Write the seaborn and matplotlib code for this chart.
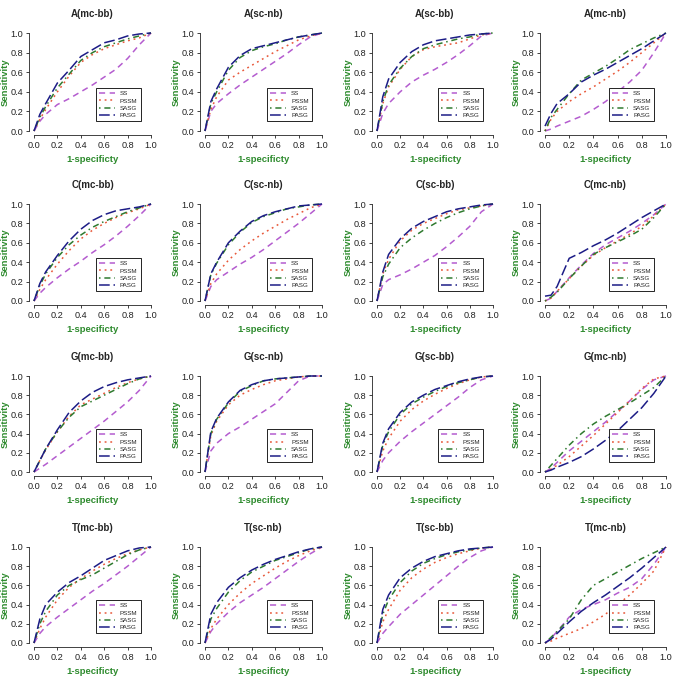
import numpy as np
import pandas as pd
import matplotlib
matplotlib.use('Agg')
import matplotlib.pyplot as plt
import seaborn as sns

sns.set_style('ticks')
plt.rcParams['font.family'] = ['Liberation Sans', 'DejaVu Sans']

# 1-specificity grid shared by every curve
fpr = [0.0, 0.05, 0.1, 0.2, 0.3, 0.4, 0.5, 0.6, 0.7, 0.8, 0.9, 1.0]
methods = ['SS', 'PSSM', 'SASG', 'PASG']

# sensitivity per panel, in order SS, PSSM, SASG, PASG
A_mc_bb = [[0, .10, .17, .27, .33, .40, .47, .55, .63, .74, .88, 1],
           [0, .12, .22, .40, .56, .70, .78, .84, .88, .92, .95, 1],
           [0, .14, .25, .44, .58, .72, .80, .86, .90, .94, .97, 1],
           [0, .17, .28, .49, .62, .76, .83, .90, .93, .97, .99, 1]]
A_sc_nb = [[0, .20, .28, .38, .47, .55, .63, .71, .79, .88, .96, 1],
           [0, .22, .35, .52, .60, .67, .74, .81, .87, .93, .97, 1],
           [0, .28, .40, .62, .75, .82, .86, .89, .93, .96, .98, 1],
           [0, .30, .43, .65, .77, .84, .87, .90, .93, .96, .98, 1]]
A_sc_bb = [[0, .18, .28, .40, .50, .57, .63, .70, .78, .87, .97, 1],
           [0, .28, .45, .63, .76, .83, .86, .88, .90, .94, .98, 1],
           [0, .30, .47, .64, .76, .84, .88, .91, .94, .96, .99, 1],
           [0, .35, .53, .70, .81, .88, .92, .94, .96, .98, .99, 1]]
A_mc_nb = [[0, .02, .05, .10, .15, .22, .30, .40, .50, .62, .80, 1],
           [0, .12, .20, .30, .38, .45, .53, .61, .70, .80, .90, 1],
           [0, .14, .22, .38, .52, .59, .66, .74, .83, .89, .95, 1],
           [.05, .18, .28, .38, .50, .57, .63, .70, .77, .84, .92, 1]]

C_mc_bb = [[0, .08, .14, .24, .33, .41, .50, .58, .67, .77, .88, 1],
           [0, .12, .22, .38, .52, .64, .73, .80, .86, .91, .95, 1],
           [0, .16, .28, .45, .58, .68, .76, .82, .87, .92, .96, 1],
           [0, .18, .30, .47, .62, .74, .83, .89, .93, .95, .97, 1]]
C_sc_nb = [[0, .15, .22, .30, .38, .45, .53, .62, .71, .80, .90, 1],
           [0, .18, .28, .42, .53, .62, .70, .77, .84, .90, .96, 1],
           [0, .27, .39, .58, .71, .81, .87, .91, .95, .97, .99, 1],
           [0, .28, .40, .60, .72, .82, .88, .92, .95, .98, .99, 1]]
C_sc_bb = [[0, .17, .22, .27, .33, .40, .47, .56, .66, .77, .92, 1],
           [0, .28, .43, .62, .73, .80, .85, .90, .94, .96, .98, 1],
           [0, .25, .38, .55, .65, .73, .80, .86, .91, .95, .98, 1],
           [0, .30, .48, .64, .75, .82, .87, .92, .95, .97, .99, 1]]
C_mc_nb = [[0, .03, .10, .24, .37, .49, .58, .65, .72, .80, .89, 1],
           [0, .03, .10, .23, .36, .47, .55, .62, .69, .77, .88, 1],
           [0, .04, .09, .23, .36, .48, .55, .61, .67, .74, .86, 1],
           [.05, .06, .15, .44, .50, .57, .63, .70, .78, .86, .93, 1]]

G_mc_bb = [[0, .04, .08, .17, .26, .35, .44, .53, .63, .73, .85, 1],
           [0, .12, .23, .42, .58, .70, .76, .82, .88, .93, .97, 1],
           [0, .12, .24, .42, .57, .68, .74, .80, .86, .92, .97, 1],
           [0, .12, .24, .44, .62, .74, .83, .89, .93, .96, .98, 1]]
G_sc_nb = [[0, .22, .30, .40, .47, .55, .63, .71, .83, .95, 1, 1],
           [0, .38, .53, .70, .80, .86, .91, .95, .97, .99, 1, 1],
           [0, .40, .55, .72, .84, .90, .95, .97, .98, .99, 1, 1],
           [0, .42, .56, .73, .85, .91, .95, .97, .98, .99, 1, 1]]
G_sc_bb = [[0, .12, .20, .32, .42, .51, .60, .69, .78, .88, .96, 1],
           [0, .22, .35, .53, .65, .74, .81, .87, .92, .96, .99, 1],
           [0, .28, .42, .60, .71, .78, .84, .89, .93, .96, .99, 1],
           [0, .30, .45, .62, .73, .80, .86, .90, .94, .97, .99, 1]]
G_mc_nb = [[0, .04, .10, .22, .32, .42, .52, .63, .74, .86, .96, 1],
           [0, .03, .07, .16, .27, .38, .50, .62, .74, .87, .97, 1],
           [0, .07, .14, .28, .40, .50, .58, .65, .72, .80, .88, 1],
           [0, .02, .05, .10, .16, .24, .33, .43, .55, .67, .82, 1]]

T_mc_bb = [[0, .10, .17, .27, .36, .45, .54, .62, .71, .80, .90, 1],
           [0, .15, .27, .45, .58, .67, .75, .82, .88, .93, .97, 1],
           [0, .20, .33, .50, .60, .66, .71, .78, .85, .92, .97, 1],
           [0, .25, .40, .53, .63, .70, .78, .86, .91, .96, .99, 1]]
T_sc_nb = [[0, .12, .20, .32, .42, .50, .58, .67, .76, .85, .93, 1],
           [0, .15, .25, .40, .52, .62, .70, .78, .85, .91, .96, 1],
           [0, .25, .36, .53, .65, .74, .80, .86, .90, .94, .98, 1],
           [0, .30, .42, .58, .68, .76, .82, .87, .91, .95, .98, 1]]
T_sc_bb = [[0, .10, .17, .30, .40, .50, .60, .70, .80, .89, .96, 1],
           [0, .22, .35, .55, .68, .77, .84, .89, .93, .96, .99, 1],
           [0, .30, .45, .63, .75, .83, .88, .92, .95, .97, .99, 1],
           [0, .35, .50, .68, .78, .85, .90, .93, .96, .98, .99, 1]]
T_mc_nb = [[0, .05, .12, .27, .35, .40, .45, .52, .58, .67, .82, 1],
           [0, .02, .05, .10, .15, .22, .30, .40, .50, .62, .75, 1],
           [0, .06, .12, .25, .45, .60, .67, .74, .81, .88, .94, 1],
           [0, .04, .10, .22, .33, .42, .50, .59, .68, .78, .89, 1]]

titles = ['A(mc-bb)', 'A(sc-nb)', 'A(sc-bb)', 'A(mc-nb)',
          'C(mc-bb)', 'C(sc-nb)', 'C(sc-bb)', 'C(mc-nb)',
          'G(mc-bb)', 'G(sc-nb)', 'G(sc-bb)', 'G(mc-nb)',
          'T(mc-bb)', 'T(sc-nb)', 'T(sc-bb)', 'T(mc-nb)']
panels = [A_mc_bb, A_sc_nb, A_sc_bb, A_mc_nb,
          C_mc_bb, C_sc_nb, C_sc_bb, C_mc_nb,
          G_mc_bb, G_sc_nb, G_sc_bb, G_mc_nb,
          T_mc_bb, T_sc_nb, T_sc_bb, T_mc_nb]

palette = {'SS': '#B45CCF', 'PSSM': '#E8583A', 'SASG': '#2F7A2F', 'PASG': '#1C1C86'}
dashes = {'SS': (4, 3), 'PSSM': (1.2, 2.5), 'SASG': (1, 2.5, 4, 2.5), 'PASG': (7, 2.5)}
green = '#2E8B2E'

# pixel geometry of the data box (0..1) in each column / row
col_x0 = [34, 205, 377, 545]
col_w = [117, 117, 116, 121]
row_y1 = [33, 204, 376, 547]
row_h = [98, 97, 96, 96]

W = 685
fig = plt.figure(figsize=(6.85, 6.85), dpi=100)

for i, (title, curves) in enumerate(zip(titles, panels)):
    r, c = divmod(i, 4)
    w, h = col_w[c], row_h[r]
    left = col_x0[c] - 0.04 * w
    top = row_y1[r] - 0.04 * h
    ax = fig.add_axes([left / W, 1 - (top + 1.08 * h) / W, 1.08 * w / W, 1.08 * h / W])

    df = pd.DataFrame({
        'fpr': fpr * 4,
        'tpr': [v for cur in curves for v in cur],
        'method': [m for m in methods for _ in fpr],
    })
    sns.lineplot(data=df, x='fpr', y='tpr', hue='method', style='method',
                 hue_order=methods, style_order=methods, palette=palette,
                 dashes=dashes, estimator=None, sort=False, lw=1.1,
                 legend=False, ax=ax)

    ax.set_xlim(-0.04, 1.04)
    ax.set_ylim(-0.04, 1.04)
    ticks = [0, 0.2, 0.4, 0.6, 0.8, 1.0]
    ax.set_xticks(ticks)
    ax.set_yticks(ticks)
    ax.set_xticklabels(['%.1f' % t for t in ticks])
    ax.set_yticklabels(['%.1f' % t for t in ticks])
    ax.tick_params(labelsize=6.6, length=2.5, width=0.6, pad=1.8, colors='#222222')
    for s in ['top', 'right']:
        ax.spines[s].set_visible(False)
    for s in ['left', 'bottom']:
        ax.spines[s].set_bounds(0, 1)
        ax.spines[s].set_linewidth(0.6)
        ax.spines[s].set_color('#222222')

    ax.set_title(title, fontsize=7, fontweight='bold', pad=8.5)
    ax.set_xlabel('1-specificty', fontsize=6.8, fontweight='bold', color=green, labelpad=3.5)
    ax.set_ylabel('Sensitivity', fontsize=6.8, fontweight='bold', color=green, labelpad=0.5)

    leg = ax.legend(ax.lines[:4], methods, loc='lower left', bbox_to_anchor=(0.5, 0.1),
                    fontsize=4.5, handlelength=2.6, handletextpad=0.8,
                    borderpad=0.5, labelspacing=0.3, fancybox=False, framealpha=1)
    leg.get_frame().set_edgecolor('black')
    leg.get_frame().set_linewidth(0.6)

fig.savefig('out.png', dpi=100)
